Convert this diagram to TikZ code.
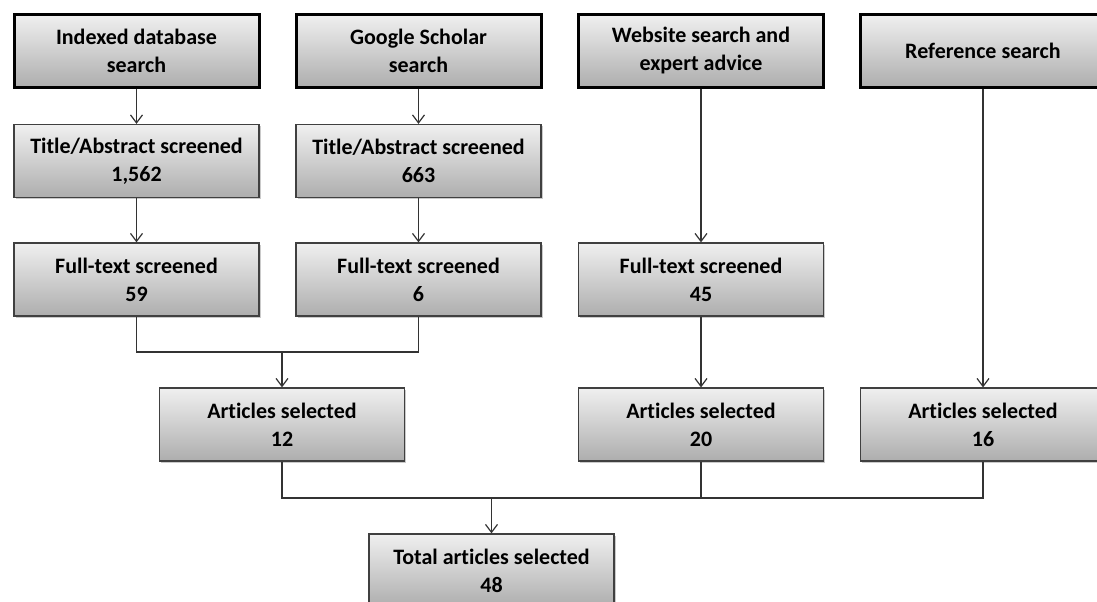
\documentclass[tikz,border=0pt]{standalone}
\usepackage{fontspec}
\setmainfont[Ligatures=NoCommon]{Carlito}
\usetikzlibrary{arrows.meta,shadows}
\begin{document}
\begin{tikzpicture}[x=1pt,y=-1pt,
  box/.style={rectangle, draw=black!75, line width=1.2pt, top color=black!6, bottom color=black!32,
    minimum width=245pt, minimum height=73pt, align=center, inner sep=0pt,
    font=\fontsize{22}{28}\selectfont\bfseries,
    drop shadow={shadow xshift=1.5pt, shadow yshift=-1.5pt, opacity=0.35, fill=black!60}},
  topbox/.style={box, draw=black, line width=3pt, minimum height=72pt},
  conn/.style={draw=black!80, line width=1.2pt},
  arr/.style={conn, -{Straight Barb[length=8pt,width=12pt,line width=1.2pt]}}]
\useasboundingbox (0,0) rectangle (1097,602);
% top row
\node[topbox] (s1) at (136.5,51) {Indexed database\\search};
\node[topbox] (s2) at (418.5,51) {Google Scholar\\search};
\node[topbox] (s3) at (701,51) {Website search and\\expert advice};
\node[topbox] (s4) at (983,51) {Reference search};
% title/abstract
\node[box] (t1) at (136.5,161) {Title/Abstract screened\\1,562};
\node[box] (t2) at (418.5,161) {Title/Abstract screened\\663};
% full text
\node[box] (f1) at (136.5,279.5) {Full-text screened\\59};
\node[box] (f2) at (418.5,279.5) {Full-text screened\\6};
\node[box] (f3) at (701,279.5) {Full-text screened\\45};
% articles selected
\node[box] (a1) at (282,424.5) {Articles selected\\12};
\node[box] (a2) at (701,424.5) {Articles selected\\20};
\node[box] (a3) at (983,424.5) {Articles selected\\16};
% total
\node[box] (tot) at (491.5,570.5) {Total articles selected\\48};
% connectors
\draw[arr] (s1) -- (t1);
\draw[arr] (s2) -- (t2);
\draw[arr] (t1) -- (f1);
\draw[arr] (t2) -- (f2);
\draw[arr] (s3) -- (f3);
\draw[arr] (f3) -- (a2);
\draw[arr] (s4) -- (a3);
\coordinate (m1) at (282,352);
\draw[conn] (f1.south) |- (m1) -| (f2.south);
\draw[arr] (m1) -- (a1);
\coordinate (m2) at (491.5,498);
\draw[conn] (a1.south) |- (m2) -| (a3.south);
\draw[conn] (a2.south) -- (a2.south |- m2);
\draw[arr] (m2) -- (tot);
\end{tikzpicture}
\end{document}
